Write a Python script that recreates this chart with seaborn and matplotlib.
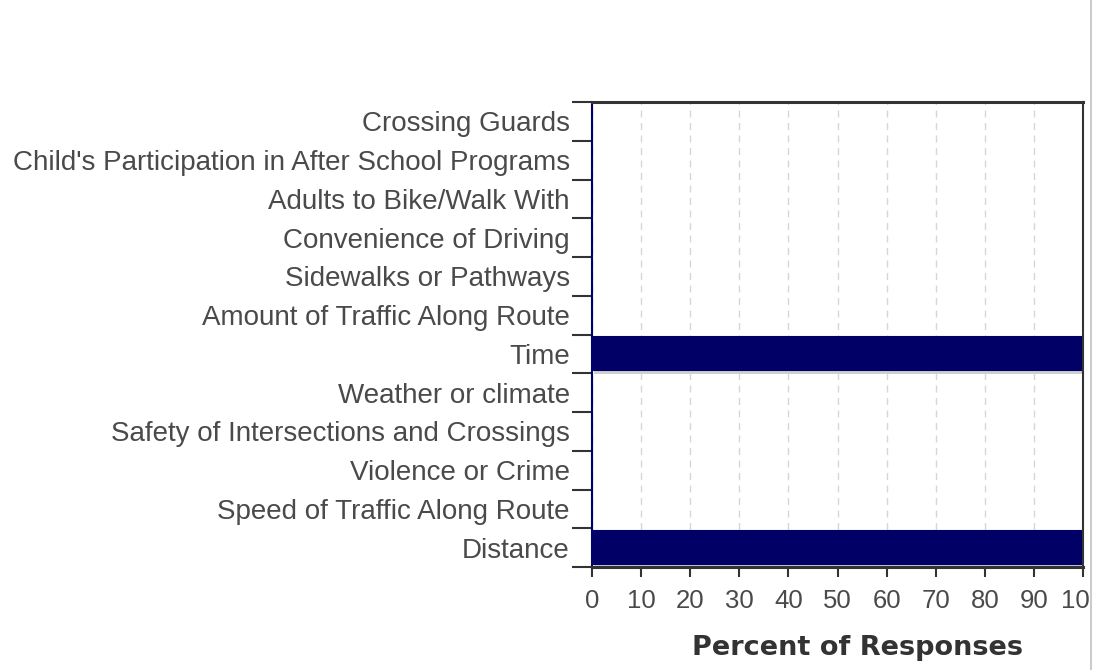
import matplotlib
matplotlib.use("Agg")
import matplotlib.pyplot as plt
import matplotlib.patheffects as pe
from matplotlib.lines import Line2D
from matplotlib.patches import Rectangle
import seaborn as sns
import pandas as pd

# data (top to bottom)
factors = [
    "Crossing Guards",
    "Child's Participation in After School Programs",
    "Adults to Bike/Walk With",
    "Convenience of Driving",
    "Sidewalks or Pathways",
    "Amount of Traffic Along Route",
    "Time",
    "Weather or climate",
    "Safety of Intersections and Crossings",
    "Violence or Crime",
    "Speed of Traffic Along Route",
    "Distance",
]
percents = [0, 0, 0, 0, 0, 0, 100, 0, 0, 0, 0, 100]
x_ticks = [0, 10, 20, 30, 40, 50, 60, 70, 80, 90, 100]

df = pd.DataFrame({"factor": factors, "percent": percents})

sns.set_style("white")
plt.rcParams["font.family"] = ["Liberation Sans", "DejaVu Sans"]

fig = plt.figure(figsize=(10.97, 6.70), dpi=100)
ax = fig.add_axes([592 / 1097, 103 / 670, 491 / 1097, 465 / 670])

sns.barplot(data=df, x="percent", y="factor", orient="h", color="#000066",
            saturation=1, width=0.85, edgecolor="#000066", linewidth=1.5, ax=ax)
# light drop shadow under the bars
for bar in ax.patches:
    bar.set_path_effects([pe.SimplePatchShadow(offset=(1.5, -2.5), shadow_rgbFace="#cfcfcf", alpha=1),
                          pe.Normal()])

ax.set_xlim(0, 100)
ax.set_ylim(len(factors) - 0.5, -0.5)
ax.set_xticks(x_ticks)
ax.set_xticklabels([str(t) for t in x_ticks])
ax.xaxis.grid(True, color="#cfd8e0", linestyle=(0, (5, 4)), linewidth=1)
ax.set_axisbelow(True)

# category boundary ticks on the y axis
ax.set_yticks([i - 0.5 for i in range(len(factors) + 1)], minor=True)
ax.tick_params(axis="y", which="minor", left=True, length=14.5, width=1.5, color="#333333")
ax.tick_params(axis="y", which="major", left=False, length=0, pad=16,
               labelsize=20, labelcolor="#4a4a4a")
ax.tick_params(axis="x", which="major", bottom=True, length=7.2, width=1.5, color="#333333",
               labelsize=18.5, labelcolor="#4a4a4a", pad=9)
ax.set_ylabel("")
ax.set_xlabel("Percent of Responses", fontsize=19.5, fontweight="bold", color="#333333",
              family=["DejaVu Sans"], va="center")
ax.xaxis.set_label_coords((857 - 592) / 491, -(648 - 567) / 465)

for side in ["top", "bottom"]:
    ax.spines[side].set_linewidth(2.2)
    ax.spines[side].set_color("#333333")
ax.spines["right"].set_linewidth(1.5)
ax.spines["right"].set_color("#333333")
ax.spines["left"].set_linewidth(1.5)
ax.spines["left"].set_color("#000066")

# page border at the right edge of the reference
fig.add_artist(Rectangle((1092 / 1097, 0), 5 / 1097, 1, transform=fig.transFigure,
                         facecolor="white", edgecolor="none", zorder=10))
fig.add_artist(Line2D([1091 / 1097, 1091 / 1097], [0, 1], transform=fig.transFigure,
                      color="#cccccc", linewidth=1.5, zorder=11))

fig.savefig("out.png", dpi=100)
